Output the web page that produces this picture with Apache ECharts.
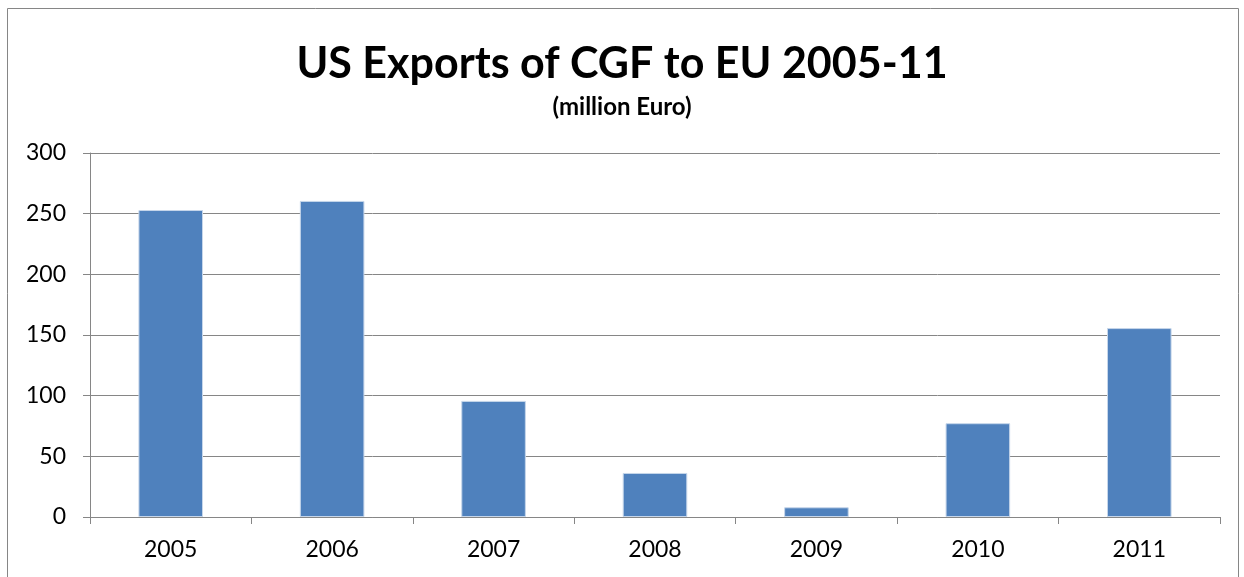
<!DOCTYPE html>
<html>
<head>
<meta charset="utf-8">
<script src="https://cdn.jsdelivr.net/npm/echarts@6/dist/echarts.min.js"></script>
<style>
  html, body { margin: 0; padding: 0; background: #fff; }
  #chart { width: 1244px; height: 577px; }
</style>
</head>
<body>
<div id="chart"></div>
<script>
var years = ['2005', '2006', '2007', '2008', '2009', '2010', '2011'];
var exportsEur = [253, 260.5, 95.7, 36.3, 8, 77.3, 155.7];
var yTicks = [0, 50, 100, 150, 200, 250, 300];

var myChart = echarts.init(document.getElementById('chart'));
var font = 'Lato, "Open Sans", sans-serif';

var option = {
    backgroundColor: '#fff',
    animation: false,
    title: {
        text: 'US Exports of CGF to EU 2005-11',
        subtext: '(million Euro)',
        left: 'center',
        top: 38,
        itemGap: 9,
        textStyle: { fontFamily: font, fontWeight: 'bold', fontSize: 43, color: '#000' },
        subtextStyle: { fontFamily: font, fontWeight: 'bold', fontSize: 24, color: '#000' }
    },
    graphic: [{
        type: 'rect',
        shape: { x: 7.5, y: 8.5, width: 1231, height: 620 },
        style: { fill: 'none', stroke: '#868686', lineWidth: 1 },
        silent: true
    }],
    grid: { left: 90, right: 24, top: 153, bottom: 60 },
    xAxis: {
        type: 'category',
        data: years,
        axisLine: { lineStyle: { color: '#868686' } },
        axisTick: { show: true, length: 7, lineStyle: { color: '#868686' } },
        axisLabel: { fontFamily: font, fontSize: 23, color: '#000', margin: 21 }
    },
    yAxis: {
        type: 'value',
        min: yTicks[0],
        max: yTicks[yTicks.length - 1],
        interval: 50,
        axisLine: { show: true, lineStyle: { color: '#868686' } },
        axisTick: { show: true, length: 7, lineStyle: { color: '#868686' } },
        axisLabel: { fontFamily: font, fontSize: 23, color: '#000', margin: 24 },
        splitLine: { lineStyle: { color: '#868686', width: 1 } }
    },
    series: [{
        type: 'bar',
        data: exportsEur,
        barCategoryGap: '60%',
        itemStyle: { color: '#4F81BD', borderColor: '#C6D6EA', borderWidth: 1 }
    }]
};
myChart.setOption(option, true);
</script>
</body>
</html>
